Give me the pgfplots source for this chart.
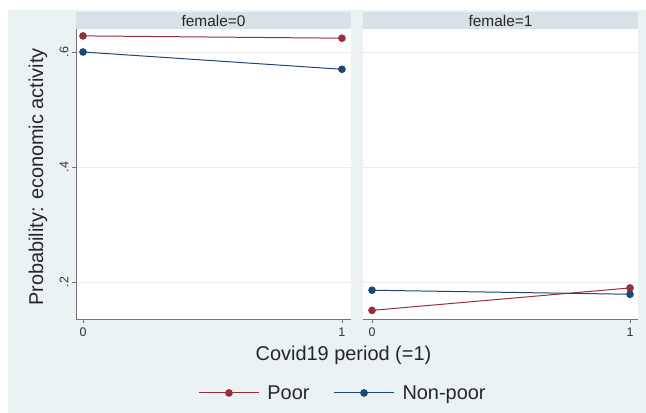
\documentclass[border=0pt]{standalone}
\usepackage{fontspec}
\setmainfont{Liberation Sans}
\usepackage{pgfplots}
\pgfplotsset{compat=1.18}
\definecolor{bgc}{RGB}{234,242,243}
\definecolor{stripc}{RGB}{216,226,230}
\definecolor{gridc}{RGB}{232,238,240}
\definecolor{poorc}{RGB}{150,48,58}
\definecolor{nonpoorc}{RGB}{30,72,115}
\definecolor{axc}{RGB}{115,115,115}
\pgfplotsset{
  panel/.style={
    scale only axis, width=275bp, height=290bp,
    ymin=0.136, ymax=0.640,
    ytick={0.2,0.4,0.6}, yticklabels={.2,.4,.6},
    xtick={0,1},
    ymajorgrids, grid style={gridc, line width=0.8pt},
    axis x line*=bottom, axis y line*=left,
    axis line style={axc, line width=0.7pt},
    tick style={axc, line width=0.6pt},
    tick align=outside, major tick length=4bp,
    axis background/.style={fill=white},
    /pgf/number format/assume math mode=true,
    xticklabel style={font=\fontsize{12.5}{14}\selectfont, text=black!80, yshift=-1bp},
    yticklabel style={font=\fontsize{12.5}{14}\selectfont, text=black!80, rotate=90, anchor=south},
    clip=false,
    every axis plot/.append style={line width=1pt, mark=*, mark size=3.3bp},
  }
}
\begin{document}
\begin{tikzpicture}
\fill[white] (0bp,0bp) rectangle (646bp,413bp);
\fill[bgc] (8bp,0bp) rectangle (646bp,403bp);
\fill[stripc] (76bp,384bp) rectangle (351bp,401bp);
\fill[stripc] (363bp,384bp) rectangle (638bp,401bp);
\node[font=\fontsize{15.5}{17}\selectfont, text=black!85] at (213.5bp,392.5bp) {female=0};
\node[font=\fontsize{15.5}{17}\selectfont, text=black!85] at (500.5bp,392.5bp) {female=1};
\begin{axis}[panel, at={(76bp,94bp)}, anchor=south west,
  xmin=-0.027, xmax=1.035,
  legend columns=2,
  legend style={at={(0.971,-0.255)}, anchor=center, draw=none, fill=none,
    font=\fontsize{20}{23}\selectfont, text=black!85,
    /tikz/every even column/.append style={column sep=22bp}},
  legend image code/.code={\draw[#1, mark repeat=2, mark phase=2] plot coordinates {(0bp,0bp) (30bp,0bp) (60bp,0bp)};},
]
\addplot[poorc, mark options={fill=poorc, draw=poorc}] coordinates {(0,0.628) (1,0.624)};
\addlegendentry{\hspace{6bp}Poor}
\addplot[nonpoorc, mark options={fill=nonpoorc, draw=nonpoorc}] coordinates {(0,0.600) (1,0.570)};
\addlegendentry{\hspace{6bp}Non-poor}
\end{axis}
\begin{axis}[panel, at={(363bp,94bp)}, anchor=south west,
  xmin=-0.035, xmax=1.031,
  y axis line style={draw=none}, ytick style={draw=none}, yticklabels={},
]
\addplot[poorc, mark options={fill=poorc, draw=poorc}] coordinates {(0,0.151) (1,0.190)};
\addplot[nonpoorc, mark options={fill=nonpoorc, draw=nonpoorc}] coordinates {(0,0.186) (1,0.179)};
\end{axis}
\node[font=\fontsize{20}{23}\selectfont, text=black!85] at (343.5bp,58bp) {Covid19 period (=1)};
\node[font=\fontsize{20}{23}\selectfont, text=black!85, rotate=90] at (38bp,236bp) {Probability: economic activity};
\end{tikzpicture}
\end{document}
